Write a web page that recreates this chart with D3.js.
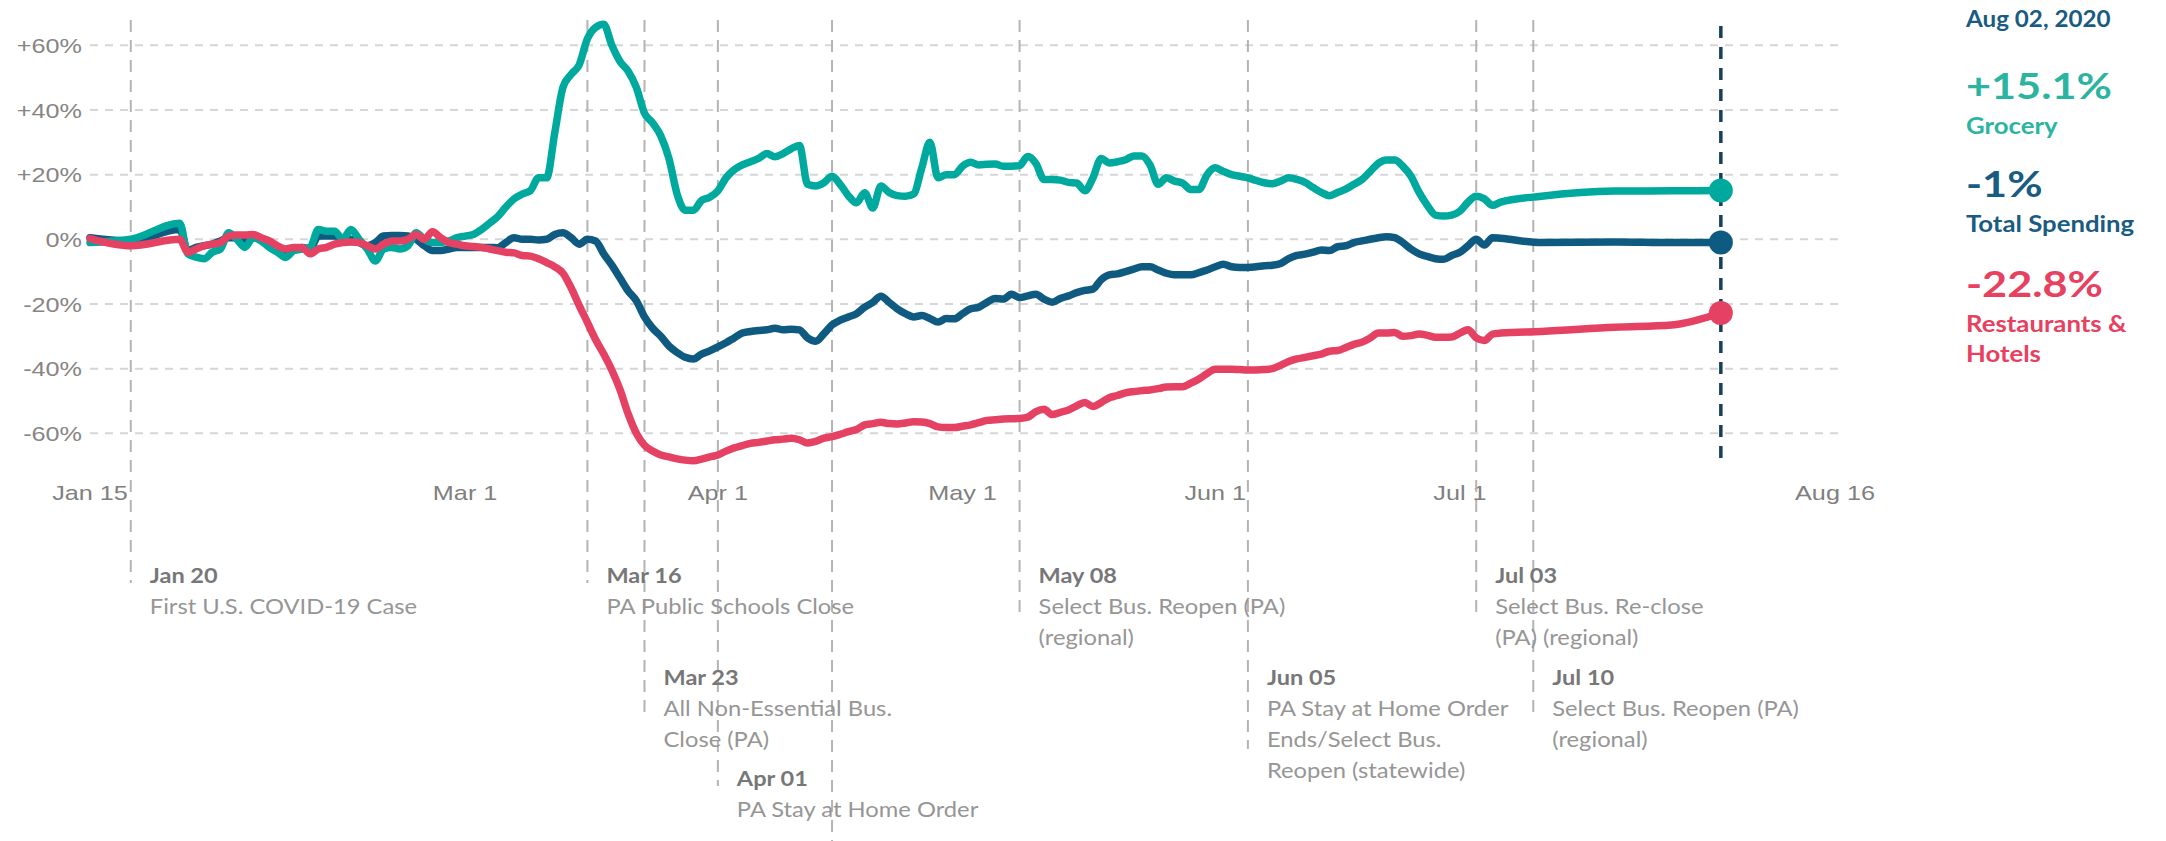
<!DOCTYPE html>
<html>
<head>
<meta charset="utf-8">
<script src="https://cdn.jsdelivr.net/npm/d3@7"></script>
<style>
body { margin: 0; background: #fff; }
</style>
</head>
<body>
<script>
const w = 2166
const h = 841

// sample dates (2020), daily values are 7-day averages vs. January baseline
const dates = [
	"1/15","1/20","1/26",
	"1/27","1/28","1/29","1/30","1/31",
	"2/1","2/2","2/3","2/4","2/5","2/6","2/7","2/8","2/9","2/10",
	"2/11","2/12","2/13","2/14","2/15","2/16","2/17","2/18","2/19","2/20",
	"2/21","2/22","2/23","2/24","2/25","2/26","2/27","2/28","2/29",
	"3/1","3/2","3/3","3/4","3/5","3/6","3/7","3/8","3/9","3/10",
	"3/11","3/12","3/13","3/14","3/15","3/16","3/17","3/18","3/19","3/20",
	"3/21","3/22","3/23","3/24","3/25","3/26","3/27","3/28","3/29","3/30","3/31",
	"4/1","4/2","4/3","4/4","4/5","4/6","4/7","4/8","4/9","4/10",
	"4/11","4/12","4/13","4/14","4/15","4/16","4/17","4/18","4/19","4/20",
	"4/21","4/22","4/23","4/24","4/25","4/26","4/27","4/28","4/29","4/30",
	"5/1","5/2","5/3","5/4","5/5","5/6","5/7","5/8","5/9","5/10",
	"5/11","5/12","5/13","5/14","5/15","5/16","5/17","5/18","5/19","5/20",
	"5/21","5/22","5/23","5/24","5/25","5/26","5/27","5/28","5/29","5/30","5/31",
	"6/1","6/2","6/3","6/4","6/5","6/6","6/7","6/8","6/9","6/10",
	"6/11","6/12","6/13","6/14","6/15","6/16","6/17","6/18","6/19","6/20",
	"6/21","6/22","6/23","6/24","6/25","6/26","6/27","6/28","6/29","6/30",
	"7/1","7/2","7/3","7/4","7/5","7/6",
	"7/11","7/20","7/27","8/2"
]

const grocery = [
	-1, 0, 5,
	-4.5, -5.5, -6, -4, -3,
	2, 0, -2.5, 0.5, -0.5, -2.5, -4, -5.6, -3.5, -3,
	-2.5, 3, 2.5, 2.5, 0, 3, 0, -3, -6.7, -3,
	-2.5, -3, -2, 2, 0, -1, -1, -0.5, 0.5,
	1, 1.5, 3, 5, 7, 10, 12.5, 14, 15, 19,
	19, 33, 47, 51, 54, 62, 65.5, 66.5, 60, 55,
	52, 47, 39, 36, 32, 25, 14, 9, 9, 12, 13,
	15, 19, 21.5, 23, 24, 25, 26.5, 25.5, 26.5, 28,
	29, 17, 16.5, 17.5, 19.5, 17, 13.5, 11.3, 14.4, 9.7,
	16.5, 14.5, 13.5, 13.3, 14, 22, 30, 19, 20, 20,
	22.6, 23.8, 23, 23.2, 23.3, 22.6, 22.6, 22.8, 25.6, 23.5,
	18.5, 18.5, 18.3, 17.6, 17.4, 15, 19, 25, 23.6, 24,
	24.6, 25.8, 25.8, 23, 17, 19, 18, 17.4, 15.4, 15.4, 20,
	22.1, 21, 20, 19.5, 19, 18.2, 17.5, 17.2, 18, 19,
	18.5, 17.6, 16, 14.5, 13.5, 14.5, 15.5, 17, 18.5, 21,
	23.5, 24.5, 24.5, 22.6, 19.5, 14.5, 10.5, 7.5, 7.2, 7.5,
	8.7, 11.5, 13.3, 12.5, 10.5, 11.5,
	13.3, 14.9, 15, 15.1
]

const totalSpending = [
	0.5, -0.5, 3,
	-3.5, -2.5, -2, -1.5, -0.5,
	0.5, 0.5, 0, 0.5, 0, -2, -3, -4, -3, -2.5,
	-3, 1, 1, 1, 0.5, 0, -1, -2, -1, 1,
	1.2, 1.2, 1, 0, -2, -3.5, -3.5, -3, -2.5,
	-2.5, -2.5, -2.5, -2.5, -2.6, -1, 0.5, 0, 0, -0.2,
	0, 1.5, 2, 0.5, -1.5, 0, -0.5, -4.5, -8, -12,
	-16, -19, -24, -27.5, -30, -33, -35, -36.5, -37, -35.5, -34.5,
	-33.3, -32, -30.5, -29, -28.5, -28.2, -28, -27.5, -28, -27.8,
	-28, -30.5, -31.5, -29.2, -26.5, -25, -24, -23, -21, -19.5,
	-17.6, -19.5, -21.5, -23, -24, -23.6, -24.5, -25.6, -24.5, -24.6,
	-23, -21.5, -21, -19.5, -18.3, -18.5, -17, -18, -17.5, -17,
	-18.5, -19.5, -18.3, -17.5, -16.5, -15.8, -15.4, -12.5, -11, -10.7,
	-10, -9.2, -8.5, -8.5, -9.5, -10.5, -11, -11, -11, -10.3, -9.5,
	-8.5, -7.7, -8.5, -8.7, -8.7, -8.5, -8.2, -8, -7.5, -6,
	-5, -4.6, -4, -3.3, -3.5, -2.3, -2, -1, -0.5, 0,
	0.5, 0.8, 0.5, -1, -3, -4.5, -5.3, -6, -6.2, -5,
	-4, -2, 0, -1.8, 0.5, 0.3,
	-1, -0.8, -1, -1
]

const restaurants = [
	0.2, -2, 0,
	-4, -3, -2, -1.5, -1,
	1, 1.3, 1.3, 1.5, 0.5, -0.5, -2, -3, -2.5, -2.5,
	-4.5, -3, -2.5, -1.5, -1, -0.8, -1, -2, -3, -1.5,
	-0.5, -0.5, 0, 1.5, 0, 2.3, 0.5, -1, -1.5,
	-2, -2.2, -2.5, -3, -3.5, -4, -4.2, -5, -5.2, -6,
	-7.2, -8.5, -10.5, -15, -20.5, -25.7, -31, -35.5, -40.5, -46.5,
	-54, -60, -63.7, -65.5, -66.7, -67.3, -67.9, -68.3, -68.5, -68, -67.3,
	-66.7, -65.5, -64.5, -63.8, -63.1, -62.8, -62.4, -62, -61.8, -61.5,
	-62, -63, -62.5, -61.5, -61, -60.3, -59.5, -58.8, -57.4, -57,
	-56.6, -57, -57.1, -56.8, -56.4, -56.5, -57, -58, -58.2, -58.2,
	-57.8, -57.4, -56.7, -56, -55.8, -55.6, -55.5, -55.4, -55, -53.3,
	-52.6, -54.2, -53.5, -52.8, -51.5, -50.5, -51.7, -50.5, -49, -48.3,
	-47.5, -47.1, -46.8, -46.6, -46.2, -45.7, -45.6, -45.6, -44.5, -43.2, -41.5,
	-40.2, -40.2, -40.2, -40.3, -40.4, -40.4, -40.3, -40, -39, -37.8,
	-37, -36.5, -36, -35.5, -34.6, -34.4, -33.5, -32.5, -31.8, -30.5,
	-29, -29, -28.8, -30, -29.8, -29.3, -29.7, -30.3, -30.3, -30.2,
	-29, -28, -30.5, -31.3, -29.3, -29,
	-28.5, -27.2, -26.5, -22.8
]

const seriesNames = [["Grocery"], ["Total Spending"], ["Restaurants &", "Hotels"]]
const seriesColors = ["#00a99d", "#0e5a80", "#e54263"]
const legendColors = ["#2bb5a0", "#195b81", "#e8405f"]

const yTicks = [-60, -40, -20, 0, 20, 40, 60]
const xTickDates = ["1/15", "3/1", "4/1", "5/1", "6/1", "7/1", "8/16"]
const xTickLabels = ["Jan 15", "Mar 1", "Apr 1", "May 1", "Jun 1", "Jul 1", "Aug 16"]

const eventDates = ["1/20", "3/16", "3/23", "4/1", "4/15", "5/8", "6/5", "7/3", "7/10"]
const eventTitles = ["Jan 20", "Mar 16", "Mar 23", "Apr 01", "", "May 08", "Jun 05", "Jul 03", "Jul 10"]
const eventNotes = [
	["First U.S. COVID-19 Case"],
	["PA Public Schools Close"],
	["All Non-Essential Bus.", "Close (PA)"],
	["PA Stay at Home Order"],
	[],
	["Select Bus. Reopen (PA)", "(regional)"],
	["PA Stay at Home Order", "Ends/Select Bus.", "Reopen (statewide)"],
	["Select Bus. Re-close", "(PA) (regional)"],
	["Select Bus. Reopen (PA)", "(regional)"]
]
const eventLevels = [0, 0, 1, 2, 3, 0, 1, 0, 1]
const levelY = [583, 685, 786]

const lastLabel = "Aug 02, 2020"

const parseDate = d3.utcParse("%m/%d/%Y")
const toDate = s => parseDate(s + "/2020")

// widen text a little, the reference is drawn slightly stretched
let stretch = (sel, k) => sel.each(function() {
	let len = this.getComputedTextLength()
	d3.select(this).attr("textLength", len * k).attr("lengthAdjust", "spacingAndGlyphs")
})

const svg = d3.select("body")
	.append("svg")
	.attr("width", w)
	.attr("height", h)

const xScale = d3.scaleUtc()
	.domain([toDate("1/15"), toDate("8/16")])
	.range([90, 1835])

const yScale = d3.scaleLinear()
	.domain([-60, 60])
	.range([433.3, 45.3])

// grid
svg.append("g")
	.selectAll("line")
	.data(yTicks)
	.enter()
	.append("line")
	.attr("x1", 90)
	.attr("x2", 1840)
	.attr("y1", d => yScale(d))
	.attr("y2", d => yScale(d))
	.attr("stroke", "#d6d6d6")
	.attr("stroke-width", 2)
	.attr("stroke-dasharray", "8,7")

// y labels
svg.append("g")
	.selectAll("text")
	.data(yTicks)
	.enter()
	.append("text")
	.attr("x", 82)
	.attr("y", d => yScale(d))
	.attr("dy", "0.36em")
	.attr("text-anchor", "end")
	.attr("font-family", "Liberation Sans, Arial, sans-serif")
	.attr("font-size", 21)
	.attr("fill", "#858585")
	.text(d => (d > 0 ? "+" : "") + d + "%")
	.call(stretch, 1.2)

// x labels
svg.append("g")
	.selectAll("text")
	.data(xTickDates)
	.enter()
	.append("text")
	.attr("x", d => xScale(toDate(d)))
	.attr("y", 500)
	.attr("text-anchor", "middle")
	.attr("font-family", "Liberation Sans, Arial, sans-serif")
	.attr("font-size", 21)
	.attr("fill", "#808080")
	.text((d, i) => xTickLabels[i])
	.call(stretch, 1.2)

// event markers
const events = eventDates.map((d, i) => ({
	date: toDate(d), title: eventTitles[i], notes: eventNotes[i], level: eventLevels[i]
}))

svg.append("g")
	.selectAll("line")
	.data(events)
	.enter()
	.append("line")
	.attr("x1", d => xScale(d.date))
	.attr("x2", d => xScale(d.date))
	.attr("y1", 20)
	.attr("y2", d => d.notes.length ? levelY[d.level] + (d.notes.length - 1) * 32 : h)
	.attr("stroke", "#b4b4b4")
	.attr("stroke-width", 2)
	.attr("stroke-dasharray", "12,8")

let labelled = events.filter(d => d.title)

let eventText = svg.append("g")
	.attr("font-family", "Lato, sans-serif")
	.attr("font-size", 21)

eventText.selectAll(".title")
	.data(labelled)
	.enter()
	.append("text")
	.attr("class", "title")
	.attr("x", d => xScale(d.date) + 19)
	.attr("y", d => levelY[d.level])
	.attr("font-weight", 700)
	.attr("fill", "#777777")
	.text(d => d.title)
	.call(stretch, 1.12)

labelled.forEach(e => {
	eventText.selectAll(null)
		.data(e.notes)
		.enter()
		.append("text")
		.attr("x", xScale(e.date) + 19)
		.attr("y", (d, i) => levelY[e.level] + 31 * (i + 1))
		.attr("fill", "#969696")
		.text(d => d)
		.call(stretch, 1.13)
})

// latest date marker
const lastDate = toDate(dates[dates.length - 1])
svg.append("line")
	.attr("x1", xScale(lastDate))
	.attr("x2", xScale(lastDate))
	.attr("y1", 26)
	.attr("y2", 465)
	.attr("stroke", "#163f5c")
	.attr("stroke-width", 3.5)
	.attr("stroke-dasharray", "12,9")

// lines
const series = [grocery, totalSpending, restaurants]
const drawOrder = [1, 0, 2]

let line = d3.line()
	.x((d, i) => xScale(toDate(dates[i])))
	.y(d => yScale(d))
	.curve(d3.curveMonotoneX)

drawOrder.forEach(k => {
	svg.append("path")
		.datum(series[k])
		.attr("d", line)
		.attr("fill", "none")
		.attr("stroke", seriesColors[k])
		.attr("stroke-width", 7.5)
		.attr("stroke-linejoin", "round")
		.attr("stroke-linecap", "round")
})

svg.append("g")
	.selectAll("circle")
	.data(series)
	.enter()
	.append("circle")
	.attr("cx", xScale(lastDate))
	.attr("cy", d => yScale(d[d.length - 1]))
	.attr("r", 12)
	.attr("fill", (d, i) => seriesColors[i])

// legend on the right
const legend = svg.append("g")
	.attr("font-family", "Lato, sans-serif")
	.attr("font-weight", 700)

legend.append("text")
	.attr("x", 1966)
	.attr("y", 27)
	.attr("font-size", 22)
	.attr("fill", "#195b81")
	.text(lastLabel)
	.call(stretch, 1.1)

const valueY = [99, 197, 297]
series.forEach((s, i) => {
	let v = s[s.length - 1]
	legend.append("text")
		.attr("x", 1966)
		.attr("y", valueY[i])
		.attr("font-size", 36)
		.attr("fill", legendColors[i])
		.text((v > 0 ? "+" : "") + v + "%")
		.call(stretch, 1.2)
	legend.selectAll(null)
		.data(seriesNames[i])
		.enter()
		.append("text")
		.attr("x", 1966)
		.attr("y", (d, j) => valueY[i] + 35 + j * 30)
		.attr("font-size", 22)
		.attr("fill", legendColors[i])
		.text(d => d)
		.call(stretch, 1.17)
})
</script>
</body>
</html>
